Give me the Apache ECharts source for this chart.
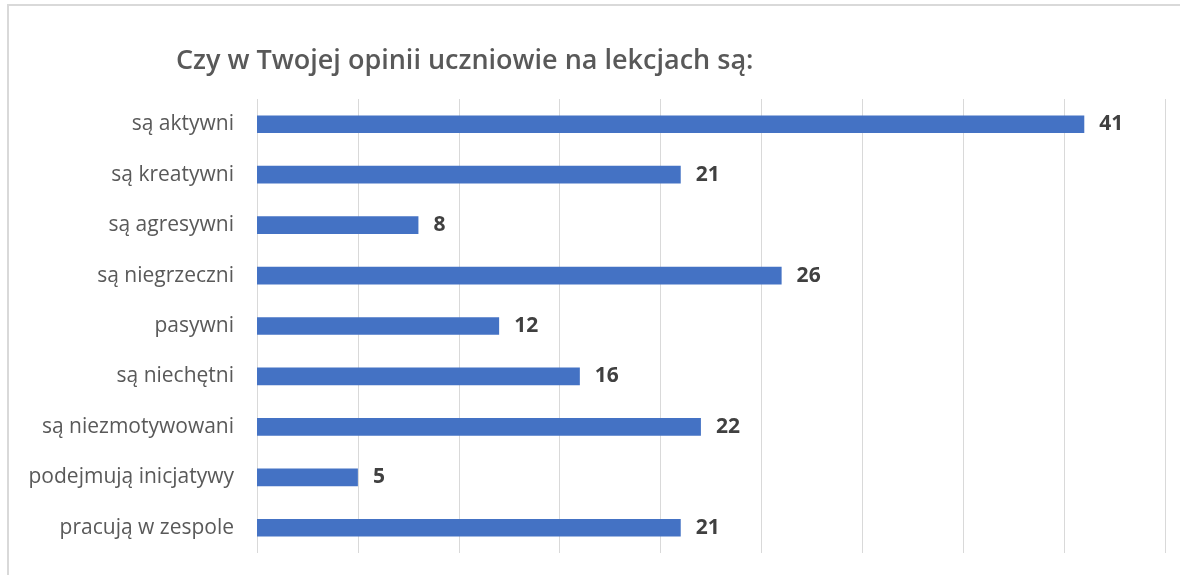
<!DOCTYPE html>
<html lang="pl">
<head>
    <meta charset="UTF-8">
    <title>Czy w Twojej opinii uczniowie na lekcjach są</title>
    <script src="https://cdn.jsdelivr.net/npm/echarts@6/dist/echarts.min.js"></script>
<style>
    html,body{margin:0;padding:0;background:#fff;}
    #wykres{width:1180px;height:575px;}
</style>
</head>
<body>
<div id="wykres"></div>
<script>
    var kategorie=['są aktywni','są kreatywni','są agresywni','są niegrzeczni','pasywni','są niechętni','są niezmotywowani','podejmują inicjatywy','pracują w zespole'];
    var wartosci=[41,21,8,26,12,16,22,5,21];
    var tytul='Czy w Twojej opinii uczniowie na lekcjach są:';

    var wykres=echarts.init(document.getElementById('wykres'));
    var option={
        animation:false,
        backgroundColor:'#fff',
        textStyle:{fontFamily:'"Open Sans", "Noto Sans", sans-serif'},
        title:{
            text:tytul,
            left:171,
            top:43,
            textStyle:{fontSize:27,fontWeight:600,color:'#595959',fontFamily:'"Open Sans", sans-serif'}
        },
        graphic:[{
            type:'rect',
            shape:{x:8,y:5,width:1200,height:620},
            style:{fill:'none',stroke:'#d9d9d9',lineWidth:2},
            silent:true
        }],
        grid:{left:257,right:15,top:99,bottom:22},
        xAxis:{
            type:'value',
            min:0,
            max:45,
            interval:5,
            axisLabel:{show:false},
            axisLine:{show:false},
            axisTick:{show:false},
            splitLine:{lineStyle:{color:'#d9d9d9',width:1}}
        },
        yAxis:{
            type:'category',
            inverse:true,
            data:kategorie,
            axisLine:{show:false},
            axisTick:{show:false},
            axisLabel:{fontSize:21,color:'#595959',margin:23}
        },
        series:[{
            type:'bar',
            data:wartosci,
            barCategoryGap:'65%',
            itemStyle:{color:'#4472c4'},
            label:{show:true,position:'right',distance:15,fontSize:21,fontWeight:'bold',color:'#404040'}
        }]
    };
    wykres.setOption(option);
</script>
</body>
</html>
